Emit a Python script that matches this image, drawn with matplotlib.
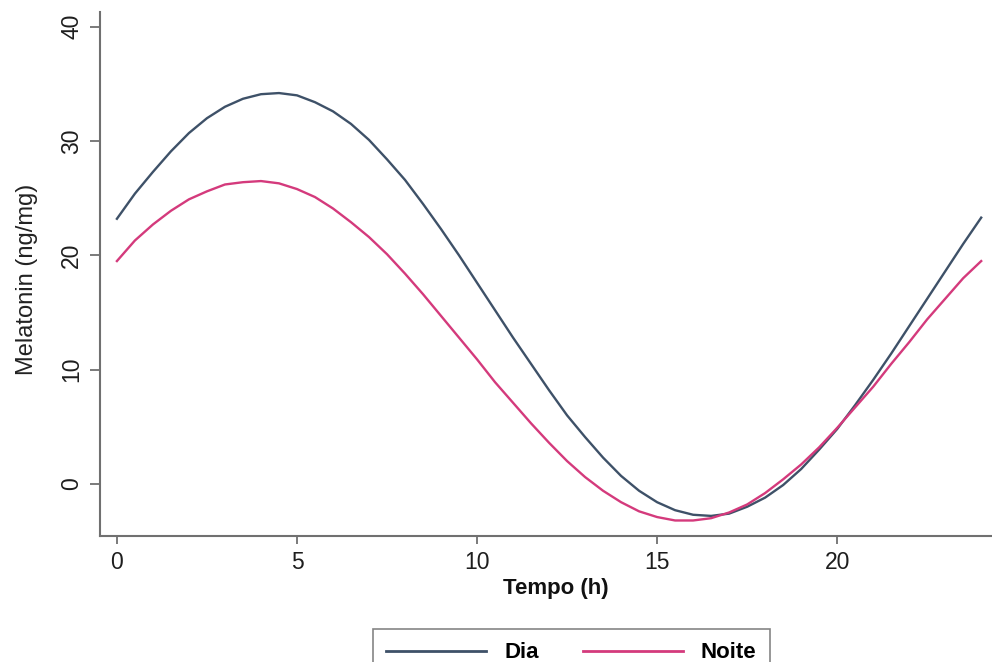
import matplotlib.pyplot as plt

plt.rcParams["font.family"] = ["Liberation Sans", "DejaVu Sans"]

# half-hour readings of the two curves
HOURS = [h / 2 for h in range(49)]
DIA = [23.2, 25.4, 27.3, 29.1, 30.7, 32.0, 33.0, 33.7, 34.1, 34.2,
       34.0, 33.4, 32.6, 31.5, 30.1, 28.4, 26.6, 24.5, 22.3, 20.0,
       17.6, 15.2, 12.8, 10.5, 8.2, 6.0, 4.1, 2.3, 0.7, -0.6,
       -1.6, -2.3, -2.7, -2.8, -2.6, -2.0, -1.2, -0.1, 1.3, 3.0,
       4.8, 6.9, 9.1, 11.4, 13.8, 16.2, 18.6, 21.0, 23.3]
NOITE = [19.5, 21.3, 22.7, 23.9, 24.9, 25.6, 26.2, 26.4, 26.5, 26.3,
         25.8, 25.1, 24.1, 22.9, 21.6, 20.1, 18.4, 16.6, 14.7, 12.8,
         10.9, 8.9, 7.1, 5.3, 3.6, 2.0, 0.6, -0.6, -1.6, -2.4,
         -2.9, -3.2, -3.2, -3.0, -2.5, -1.8, -0.8, 0.4, 1.7, 3.2,
         4.9, 6.7, 8.5, 10.5, 12.4, 14.4, 16.2, 18.0, 19.5]
X_TICKS = [0, 5, 10, 15, 20]
Y_TICKS = [0, 10, 20, 30, 40]

DIA_COLOR = "#3e5168"
NOITE_COLOR = "#d43a7c"
AXIS_COLOR = "#707070"


def main():
    fig = plt.figure(figsize=(9.92, 6.62), dpi=100)
    ax = fig.add_axes([0.1008, 0.1903, 0.8992, 0.7917])

    ax.plot(HOURS, DIA, color=DIA_COLOR, lw=1.7, label="Dia")
    ax.plot(HOURS, NOITE, color=NOITE_COLOR, lw=1.7, label="Noite")

    ax.set_xlim(-0.47, 24.3)
    ax.set_ylim(-4.56, 41.3)
    ax.set_xticks(X_TICKS)
    ax.set_yticks(Y_TICKS)

    for side in ("top", "right"):
        ax.spines[side].set_visible(False)
    for side in ("left", "bottom"):
        ax.spines[side].set_color(AXIS_COLOR)
        ax.spines[side].set_linewidth(1.5)

    ax.tick_params(axis="both", colors=AXIS_COLOR, width=1.3, labelcolor="#1e1e1e",
                   labelsize=16.5)
    ax.tick_params(axis="x", length=6, pad=5)
    ax.tick_params(axis="y", length=7, pad=5)
    for lbl in ax.get_yticklabels():
        lbl.set_rotation(90)
        lbl.set_va("center")

    ax.set_ylabel("Melatonin (ng/mg)", fontsize=17, color="#222222")
    ax.yaxis.set_label_coords(-0.07, 0.49)
    ax.set_xlabel("Tempo (h)", fontsize=16, fontweight="bold", color="#111111")
    ax.xaxis.set_label_coords(0.511, -0.08)

    leg = fig.legend(loc="upper left", bbox_to_anchor=(362 / 992, 1 - 618 / 662),
                     ncol=2, handlelength=4.5, columnspacing=2.0, handletextpad=0.8,
                     fancybox=False, borderpad=0.6, prop={"size": 16, "weight": "bold"})
    leg.get_frame().set_edgecolor("#666666")
    leg.get_frame().set_linewidth(1.2)
    for line in leg.get_lines():
        line.set_linewidth(2)

    fig.savefig("out.png", dpi=100)
    plt.close(fig)


if __name__ == "__main__":
    main()
